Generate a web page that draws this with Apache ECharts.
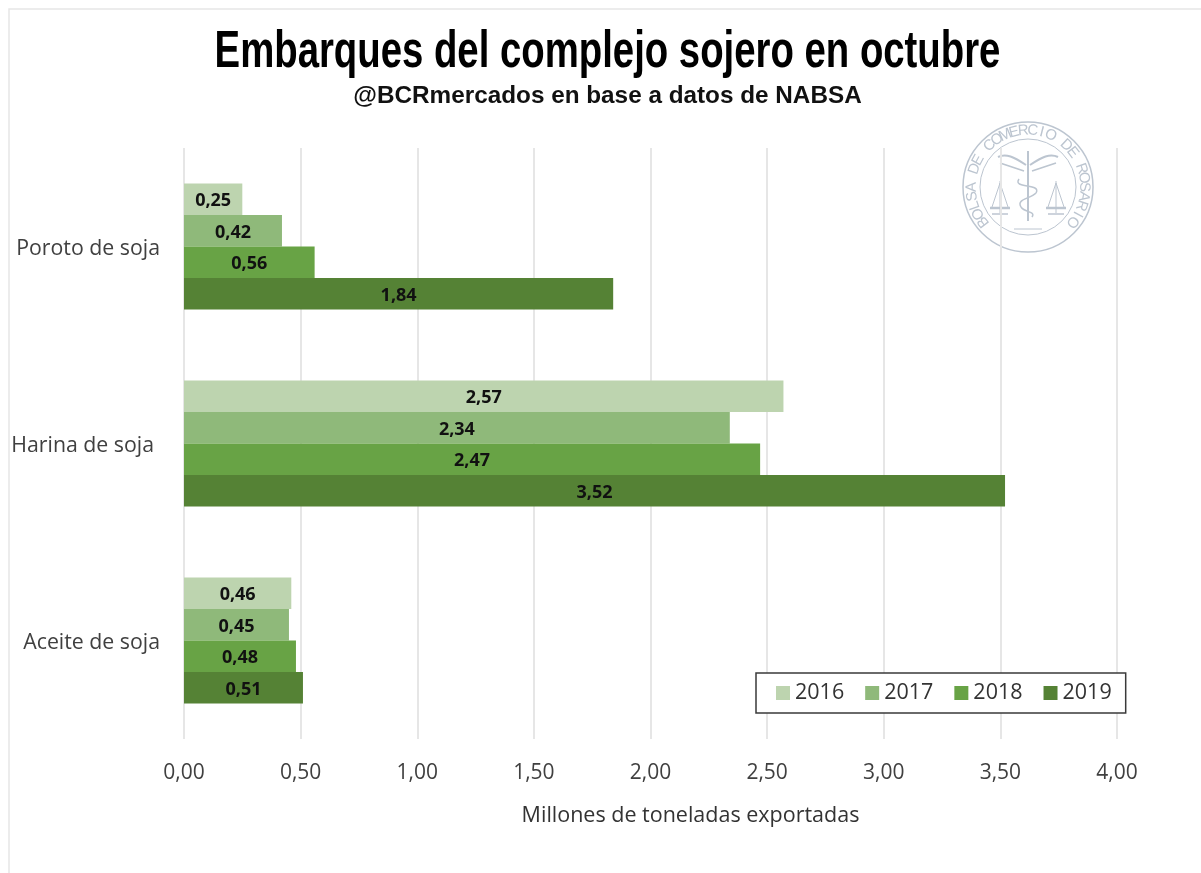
<!DOCTYPE html>
<html><head><meta charset="utf-8">
<style>html,body{margin:0;padding:0;background:#fff}#c{width:1201px;height:873px}</style>
<script src="https://cdn.jsdelivr.net/npm/echarts@6/dist/echarts.min.js"></script>
</head><body><div id="c"></div>
<script>
const categories = ['Poroto de soja', 'Harina de soja', 'Aceite de soja'];
const years = ['2016', '2017', '2018', '2019'];
const v2016 = [0.25, 2.57, 0.46];
const v2017 = [0.42, 2.34, 0.45];
const v2018 = [0.56, 2.47, 0.48];
const v2019 = [1.84, 3.52, 0.51];
const colors = ['#BDD4AF', '#8FB97A', '#68A345', '#558235'];
const xTicks = {min: 0, max: 4, interval: 0.5};
const sealText = 'BOLSA DE COMERCIO DE ROSARIO';
const titleText = 'Embarques del complejo sojero en octubre';
const subtitleText = '@BCRmercados en base a datos de NABSA';
const font = '"Open Sans", "Noto Sans", sans-serif';
const comma = v => v.toFixed(2).replace('.', ',');

const chart = echarts.init(document.getElementById('c'), null, {renderer: 'canvas'});
const seriesValues = [v2016, v2017, v2018, v2019];

// watermark seal
const cx = 1028, cy = 187, sealCol = '#BCC5D0';
const seal = [
  {type: 'circle', shape: {cx, cy, r: 65}, style: {fill: 'none', stroke: sealCol, lineWidth: 1.5}},
  {type: 'circle', shape: {cx, cy, r: 48}, style: {fill: 'none', stroke: sealCol, lineWidth: 1}},
  {type: 'line', shape: {x1: cx, y1: cy - 36, x2: cx, y2: cy + 34}, style: {stroke: sealCol, lineWidth: 2}},
  {type: 'bezierCurve', shape: {x1: cx - 2, y1: cy - 22, x2: cx - 30, y2: cy - 30, cpx1: cx - 14, cpy1: cy - 30, cpx2: cx - 22, cpy2: cy - 34}, style: {fill: 'none', stroke: sealCol, lineWidth: 2}},
  {type: 'bezierCurve', shape: {x1: cx + 2, y1: cy - 22, x2: cx + 30, y2: cy - 30, cpx1: cx + 14, cpy1: cy - 30, cpx2: cx + 22, cpy2: cy - 34}, style: {fill: 'none', stroke: sealCol, lineWidth: 2}},
  {type: 'line', shape: {x1: cx - 28, y1: cy - 24, x2: cx - 4, y2: cy - 16}, style: {stroke: sealCol, lineWidth: 1.5}},
  {type: 'line', shape: {x1: cx + 28, y1: cy - 24, x2: cx + 4, y2: cy - 16}, style: {stroke: sealCol, lineWidth: 1.5}},
  {type: 'bezierCurve', shape: {x1: cx - 9, y1: cy - 8, x2: cx + 8, y2: cy + 6, cpx1: cx - 16, cpy1: cy + 2, cpx2: cx + 14, cpy2: cy - 4}, style: {fill: 'none', stroke: sealCol, lineWidth: 1.5}},
  {type: 'bezierCurve', shape: {x1: cx + 8, y1: cy + 6, x2: cx - 7, y2: cy + 20, cpx1: cx + 2, cpy1: cy + 12, cpx2: cx - 12, cpy2: cy + 12}, style: {fill: 'none', stroke: sealCol, lineWidth: 1.5}},
  {type: 'bezierCurve', shape: {x1: cx - 7, y1: cy + 20, x2: cx + 4, y2: cy + 30, cpx1: cx - 3, cpy1: cy + 26, cpx2: cx + 8, cpy2: cy + 24}, style: {fill: 'none', stroke: sealCol, lineWidth: 1.5}},
  {type: 'line', shape: {x1: cx - 14, y1: cy + 42, x2: cx + 14, y2: cy + 42}, style: {stroke: sealCol, lineWidth: 1}}
];
[-1, 1].forEach(s => {
  const px = cx + s * 28;
  seal.push(
    {type: 'line', shape: {x1: px, y1: cy - 6, x2: px, y2: cy + 26}, style: {stroke: sealCol, lineWidth: 1}},
    {type: 'line', shape: {x1: px, y1: cy - 4, x2: px - 8, y2: cy + 20}, style: {stroke: sealCol, lineWidth: 1}},
    {type: 'line', shape: {x1: px, y1: cy - 4, x2: px + 8, y2: cy + 20}, style: {stroke: sealCol, lineWidth: 1}},
    {type: 'line', shape: {x1: px - 10, y1: cy + 21, x2: px + 10, y2: cy + 21}, style: {stroke: sealCol, lineWidth: 2.5}},
    {type: 'line', shape: {x1: px - 8, y1: cy + 27, x2: px + 8, y2: cy + 27}, style: {stroke: sealCol, lineWidth: 1.5}}
  );
});
const chars = sealText.split('');
const startA = -128, endA = 128;
chars.forEach((ch, i) => {
  const deg = startA + (endA - startA) * i / (chars.length - 1);
  const a = deg * Math.PI / 180;
  seal.push({
    type: 'text', x: cx + 56.5 * Math.sin(a), y: cy - 56.5 * Math.cos(a), rotation: -a,
    style: {text: ch, font: '15px "Liberation Sans", sans-serif', fill: sealCol, align: 'center', verticalAlign: 'middle'}
  });
});

chart.setOption({
  animation: false,
  backgroundColor: '#fff',
  legend: {
    left: 756, top: 673, orient: 'horizontal',
    data: years, itemWidth: 14, itemHeight: 14, itemGap: 21, icon: 'rect',
    backgroundColor: '#fff', borderColor: '#3a3a3a', borderWidth: 1.5,
    padding: [9, 14, 9, 20],
    textStyle: {fontFamily: font, fontSize: 21.5, color: '#333'}
  },
  grid: {left: 184, top: 148, width: 933, height: 591, containLabel: false},
  xAxis: {
    type: 'value', min: xTicks.min, max: xTicks.max, interval: xTicks.interval,
    axisLine: {show: false}, axisTick: {show: false},
    splitLine: {show: true, lineStyle: {color: '#E6E6E6', width: 2}},
    axisLabel: {formatter: comma, fontFamily: font, fontSize: 21, color: '#404040', margin: 24},
    name: 'Millones de toneladas exportadas', nameLocation: 'middle', nameGap: 66,
    nameTextStyle: {fontFamily: font, fontSize: 21.5, color: '#333', padding: [0, 0, 0, 80]}
  },
  yAxis: {
    type: 'category', data: categories, inverse: true,
    axisLine: {show: false}, axisTick: {show: false}, splitLine: {show: false},
    axisLabel: {
      fontFamily: font, fontSize: 21.3, color: '#404040', margin: 24,
      formatter: (v, i) => i === 1 ? '{s|' + v + '}' : '{n|' + v + '}',
      rich: {
        s: {fontFamily: font, fontSize: 21.3, color: '#404040', padding: [5, 6, 0, 0]},
        n: {fontFamily: font, fontSize: 21.3, color: '#404040', padding: [4, 0, 0, 0]}
      }
    }
  },
  series: years.map((y, i) => ({
    name: y, type: 'bar', data: seriesValues[i], barCategoryGap: '36%', barGap: '0%',
    itemStyle: {color: colors[i]},
    label: {show: true, position: 'inside', offset: [0, 2], formatter: p => comma(p.value),
      fontFamily: font, fontWeight: 'bold', fontSize: 18, color: '#111'}
  })),
  graphic: [
    {type: 'rect', silent: true, z: -1, shape: {x: 9, y: 9, width: 1300, height: 1000}, style: {fill: 'none', stroke: '#E6E6E6', lineWidth: 1.5}},
    {type: 'text', silent: true, x: 607.5, y: 53, scaleX: 0.737,
     style: {text: titleText, font: 'bold 52px "Liberation Sans", sans-serif', fill: '#000', align: 'center', verticalAlign: 'middle'}},
    {type: 'text', silent: true, x: 607.5, y: 96,
     style: {text: subtitleText, font: 'bold 24.3px "Liberation Sans", sans-serif', fill: '#111', align: 'center', verticalAlign: 'middle'}},
    {type: 'group', silent: true, z: 10, children: seal}
  ]
});
</script></body></html>
